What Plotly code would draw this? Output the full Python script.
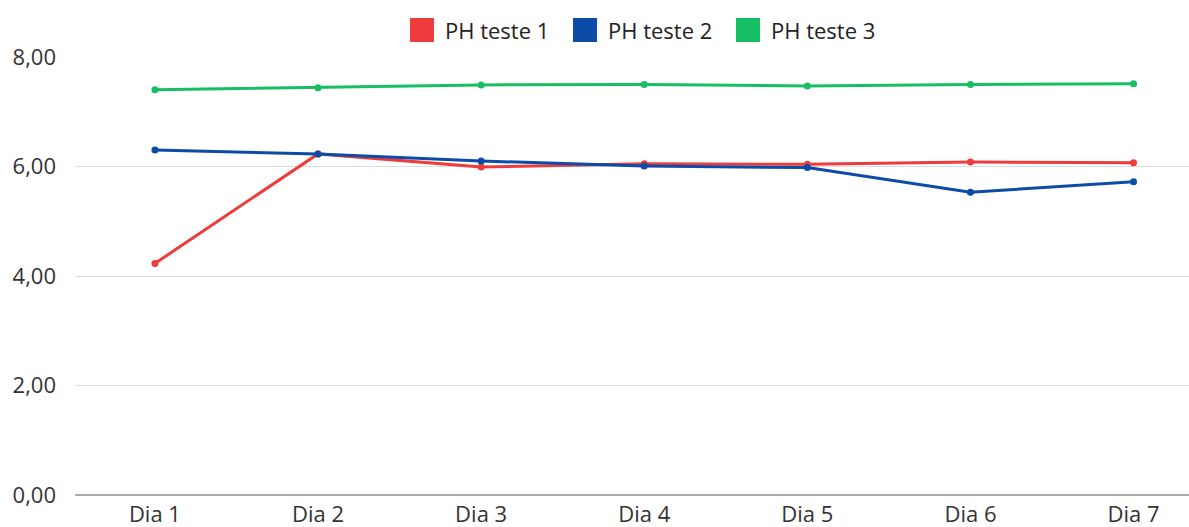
import plotly.graph_objects as go

categories = ["Dia 1", "Dia 2", "Dia 3", "Dia 4", "Dia 5", "Dia 6", "Dia 7"]
ph_teste_1 = [4.23, 6.23, 5.99, 6.05, 6.04, 6.08, 6.07]
ph_teste_2 = [6.30, 6.23, 6.10, 6.01, 5.98, 5.53, 5.72]
ph_teste_3 = [7.40, 7.44, 7.49, 7.50, 7.47, 7.50, 7.51]
series_names = ["PH teste 1", "PH teste 2", "PH teste 3"]
colors = ["#EE3B3B", "#0C4CA8", "#16BF63"]
y_ticks = [0, 2, 4, 6, 8]

W, H = 1189, 527
L, R, T, B = 75, 0, 57, 32

fig = go.Figure()
for name, vals, col in zip(series_names, [ph_teste_1, ph_teste_2, ph_teste_3], colors):
    fig.add_trace(go.Scatter(
        x=categories, y=vals, mode="lines+markers", name=name,
        line=dict(color=col, width=3), marker=dict(color=col, size=7),
        showlegend=False,
    ))

# manual legend (large square swatches)
pw, ph = W - L - R, H - T - B
def px_x(p):
    return (p - L) / pw
def px_y(p):
    return (H - B - p) / ph

swatch_left = [410, 573, 736]
for name, col, sx in zip(series_names, colors, swatch_left):
    fig.add_shape(type="rect", xref="paper", yref="paper",
                  x0=px_x(sx), x1=px_x(sx + 24), y0=px_y(42), y1=px_y(18),
                  fillcolor=col, line=dict(width=0))
    fig.add_annotation(xref="paper", yref="paper", x=px_x(sx + 33), y=px_y(30),
                       xanchor="left", yanchor="middle", text=name, showarrow=False,
                       font=dict(family="Open Sans", size=22, color="#222222"))

fig.update_layout(
    width=W, height=H,
    margin=dict(l=L, r=R, t=T, b=B),
    plot_bgcolor="white", paper_bgcolor="white",
    separators=",.",
    showlegend=False,
    font=dict(family="Open Sans", size=22, color="#333333"),
    xaxis=dict(type="category", range=[-0.49, 6.34], showgrid=False,
               showline=False, zeroline=False, ticks="", automargin=False,
               ticklabelstandoff=4,
               tickfont=dict(size=22, color="#333333")),
    yaxis=dict(range=[0, 8], tickvals=y_ticks, tickformat=".2f",
               showgrid=True, gridcolor="#DDDDDD", gridwidth=1,
               zeroline=True, zerolinecolor="#AAAAAA", zerolinewidth=1.5,
               showline=False, ticks="", automargin=False, ticklabelstandoff=18,
               tickfont=dict(size=22, color="#333333")),
)

fig.write_html("out.html",
               config={"displayModeBar": False},
               post_script="document.body.style.margin='0';document.body.style.overflow='hidden';")
